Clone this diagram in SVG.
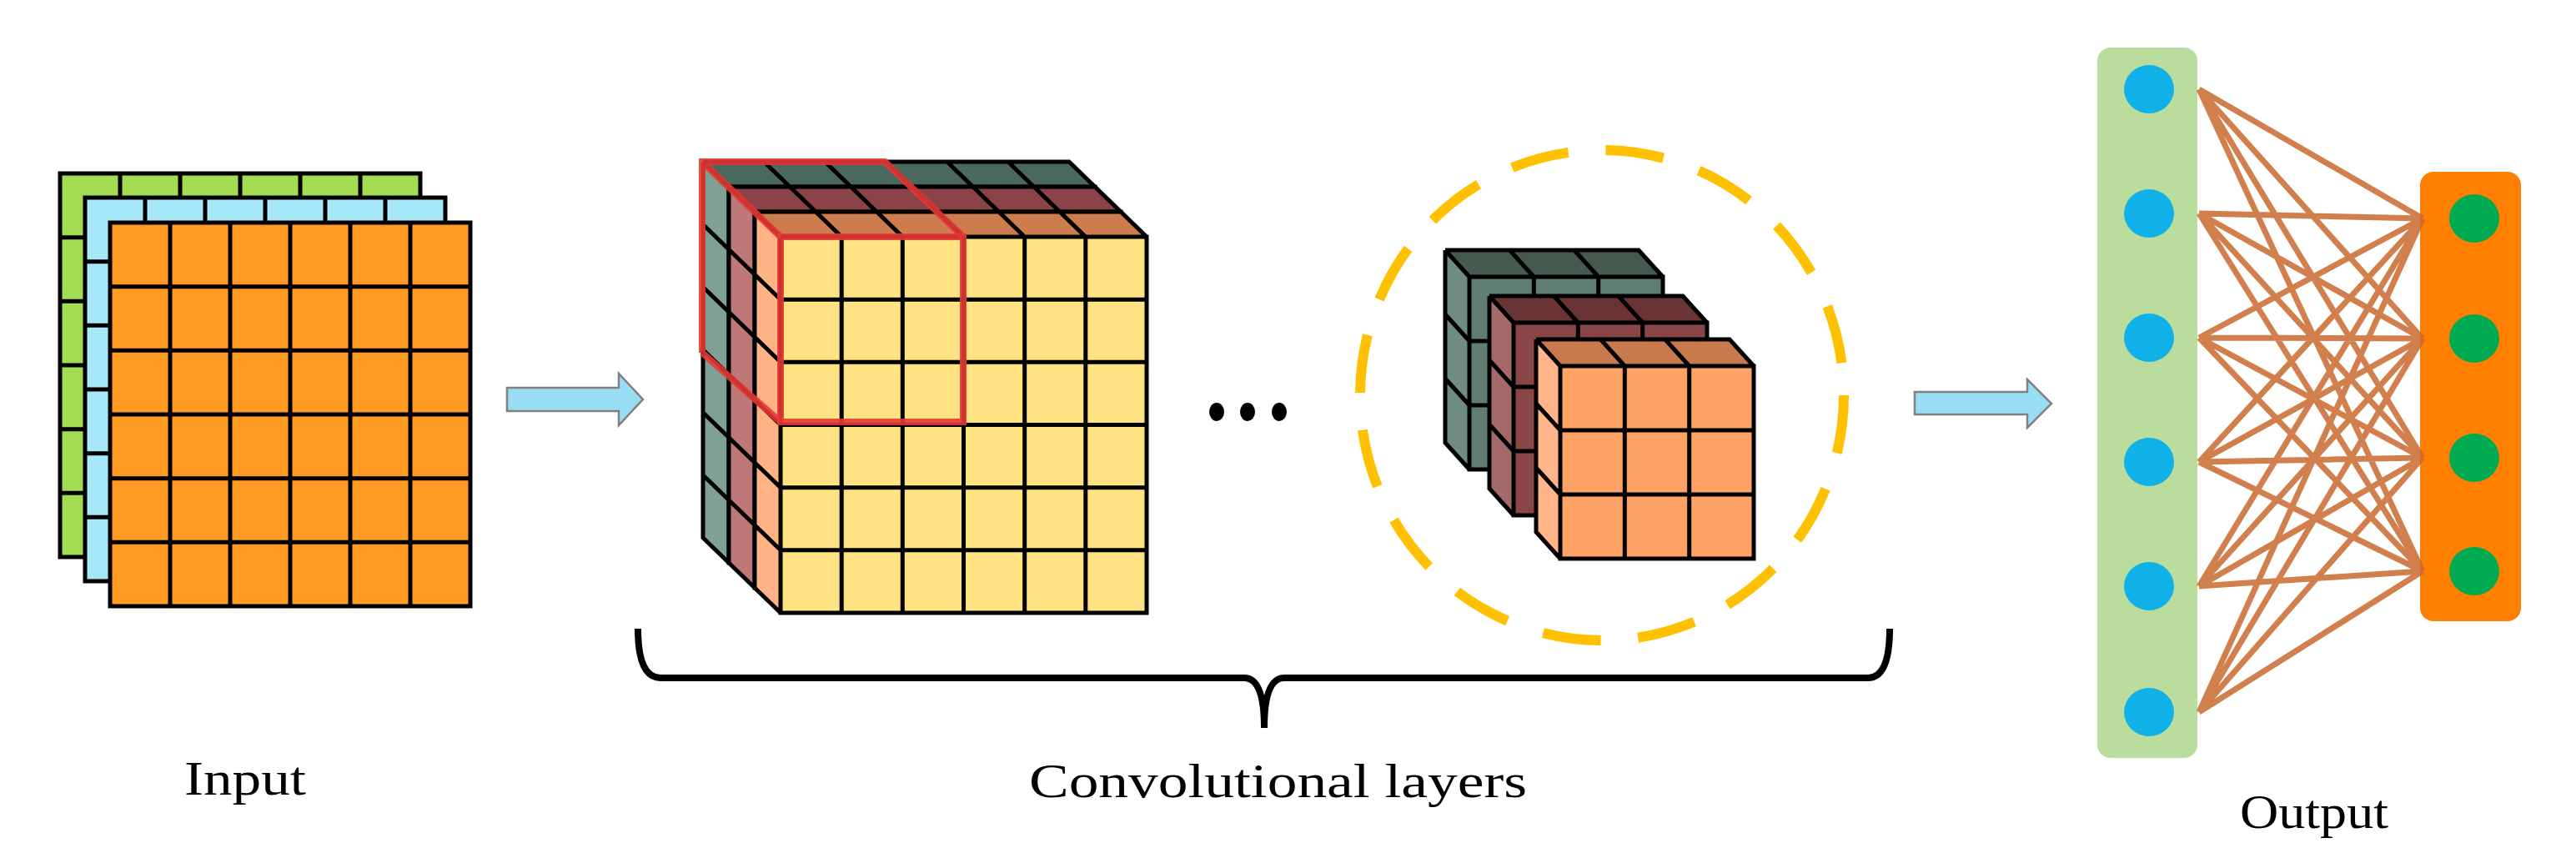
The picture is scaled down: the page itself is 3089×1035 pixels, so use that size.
<svg xmlns="http://www.w3.org/2000/svg" xmlns:xlink="http://www.w3.org/1999/xlink" width="3089" height="1035" viewBox="0 0 3089 1035">
<style>
.g{stroke:#000;stroke-width:5;stroke-linejoin:miter}
.ln{stroke:#000;stroke-width:5;fill:none}
.t{font-family:"Liberation Serif",serif;font-size:58px;fill:#000}
.arrow{fill:#99DDF5;stroke:#808080;stroke-width:2.5}
.nn{stroke:#C8682E;stroke-width:7;stroke-opacity:0.85;fill:none}
</style>
<defs>
<path id="inGrid" class="ln" d="M0,0H432V460H0Z M72,0V460 M144,0V460 M216,0V460 M288,0V460 M360,0V460 M0,76.7H432 M0,153.3H432 M0,230H432 M0,306.7H432 M0,383.3H432"/>
<path id="bigLines" class="ln" d="M0,0H439V451H0Z M73.2,0V451 M146.3,0V451 M219.5,0V451 M292.7,0V451 M365.8,0V451 M0,75.2H439 M0,150.3H439 M0,225.5H439 M0,300.7H439 M0,375.8H439 M73.2,0L42.2,-30 M146.3,0L115.3,-30 M219.5,0L188.5,-30 M292.7,0L261.7,-30 M365.8,0L334.8,-30 M0,75.2L-31,45.2 M0,150.3L-31,120.3 M0,225.5L-31,195.5 M0,300.7L-31,270.7 M0,375.8L-31,345.8 M-31,-30H408L439,0 M-31,-30L0,0 M-31,-30V421L0,451"/>
<path id="smLines" class="ln" d="M0,0H232V231H0Z M77.3,0V231 M154.7,0V231 M0,77H232 M0,154H232 M77.3,0L48.3,-32 M154.7,0L125.7,-32 M0,77L-29,45 M0,154L-29,122 M-29,-32H203L232,0 M-29,-32L0,0 M-29,-32V199L0,231"/>
</defs>

<g id="input">
<rect x="72" y="208" width="432" height="460" fill="#A2DC52"/><use href="#inGrid" x="72" y="208"/>
<rect x="102" y="237" width="432" height="460" fill="#A6E8F8"/><use href="#inGrid" x="102" y="237"/>
<rect x="132" y="267" width="432" height="460" fill="#FF9A22"/><use href="#inGrid" x="132" y="267"/>
</g>

<g id="conv-big">
<g transform="translate(874,224)">
<polygon points="-31,-30 408,-30 439,0 0,0" fill="#4A685C"/><polygon points="-31,-30 0,0 0,451 -31,421" fill="#7FA095"/><rect width="439" height="451" fill="#5E8072"/><use href="#bigLines"/>
</g>
<g transform="translate(905,254)">
<polygon points="-31,-30 408,-30 439,0 0,0" fill="#8A4346"/><polygon points="-31,-30 0,0 0,451 -31,421" fill="#BF7878"/><rect width="439" height="451" fill="#9A5558"/><use href="#bigLines"/>
</g>
<g transform="translate(936,284)">
<polygon points="-31,-30 408,-30 439,0 0,0" fill="#CD7C4E"/><polygon points="-31,-30 0,0 0,451 -31,421" fill="#FFB384"/><rect width="439" height="451" fill="#FFE282"/><use href="#bigLines"/>
</g>
<g fill="none" stroke="#E53935" stroke-width="8" stroke-opacity="0.9">
<rect x="936" y="284" width="219" height="222"/>
<path d="M842,423V194H1061L1155,284 M842,194L936,284 M842,423L936,506"/>
</g>
</g>

<g id="dots" fill="#000">
<ellipse cx="1459" cy="494" rx="9" ry="11"/><ellipse cx="1496" cy="494" rx="9" ry="11"/><ellipse cx="1534" cy="494" rx="9" ry="11"/>
</g>

<g id="conv-small">
<ellipse cx="1921" cy="474" rx="290" ry="294" fill="none" stroke="#FFC000" stroke-width="12" stroke-dasharray="70 45"/>
<g transform="translate(1762,332)">
<polygon points="-29,-32 203,-32 232,0 0,0" fill="#45594F"/><polygon points="-29,-32 0,0 0,231 -29,199" fill="#6F8C80"/><rect width="232" height="231" fill="#5F7D70"/><use href="#smLines"/>
</g>
<g transform="translate(1815,387)">
<polygon points="-29,-32 203,-32 232,0 0,0" fill="#6B3434"/><polygon points="-29,-32 0,0 0,231 -29,199" fill="#A46A6A"/><rect width="232" height="231" fill="#8A4646"/><use href="#smLines"/>
</g>
<g transform="translate(1871,439)">
<polygon points="-29,-32 203,-32 232,0 0,0" fill="#C87A4E"/><polygon points="-29,-32 0,0 0,231 -29,199" fill="#FFB48A"/><rect width="232" height="231" fill="#FFA265"/><use href="#smLines"/>
</g>
</g>

<g id="brace">
<path d="M765,754 Q765,813 792,813 L1492,813 Q1516,813 1516,873 Q1516,813 1540,813 L2240,813 Q2266,813 2266,754" fill="none" stroke="#000" stroke-width="8"/>
</g>

<g id="fc">
<rect x="2515" y="57" width="120" height="852" rx="16" fill="#BADD9E"/>
<rect x="2902" y="206" width="121" height="539" rx="16" fill="#FF7F00"/>
<g fill="#10B0E8">
<ellipse cx="2577" cy="107" rx="30" ry="29"/><ellipse cx="2577" cy="256" rx="30" ry="29"/><ellipse cx="2577" cy="405" rx="30" ry="29"/><ellipse cx="2577" cy="554" rx="30" ry="29"/><ellipse cx="2577" cy="703" rx="30" ry="29"/><ellipse cx="2577" cy="854" rx="30" ry="29"/>
</g>
<g fill="#00AA50">
<ellipse cx="2967" cy="262" rx="30" ry="29"/><ellipse cx="2967" cy="406" rx="30" ry="29"/><ellipse cx="2967" cy="549" rx="30" ry="29"/><ellipse cx="2967" cy="685" rx="30" ry="29"/>
</g>
</g>

<g id="connectors">
<polygon class="arrow" points="608,465 742,465 742,448 771,479 742,510 742,493 608,493"/>
<polygon class="arrow" points="2296,470 2431,470 2431,455 2460,484 2431,513 2431,497 2296,497"/>
<g class="nn">
<path d="M2637,107L2905,262M2637,107L2905,406M2637,107L2905,549M2637,107L2905,685
M2637,256L2905,262M2637,256L2905,406M2637,256L2905,549M2637,256L2905,685
M2637,405L2905,262M2637,405L2905,406M2637,405L2905,549M2637,405L2905,685
M2637,554L2905,262M2637,554L2905,406M2637,554L2905,549M2637,554L2905,685
M2637,703L2905,262M2637,703L2905,406M2637,703L2905,549M2637,703L2905,685
M2637,854L2905,262M2637,854L2905,406M2637,854L2905,549M2637,854L2905,685"/>
</g>
</g>

<g id="labels">
<text class="t" x="221" y="953" textLength="146" lengthAdjust="spacingAndGlyphs">Input</text>
<text class="t" x="1234" y="956" textLength="597" lengthAdjust="spacingAndGlyphs">Convolutional layers</text>
<text class="t" x="2686" y="993" textLength="178" lengthAdjust="spacingAndGlyphs">Output</text>
</g>
</svg>
